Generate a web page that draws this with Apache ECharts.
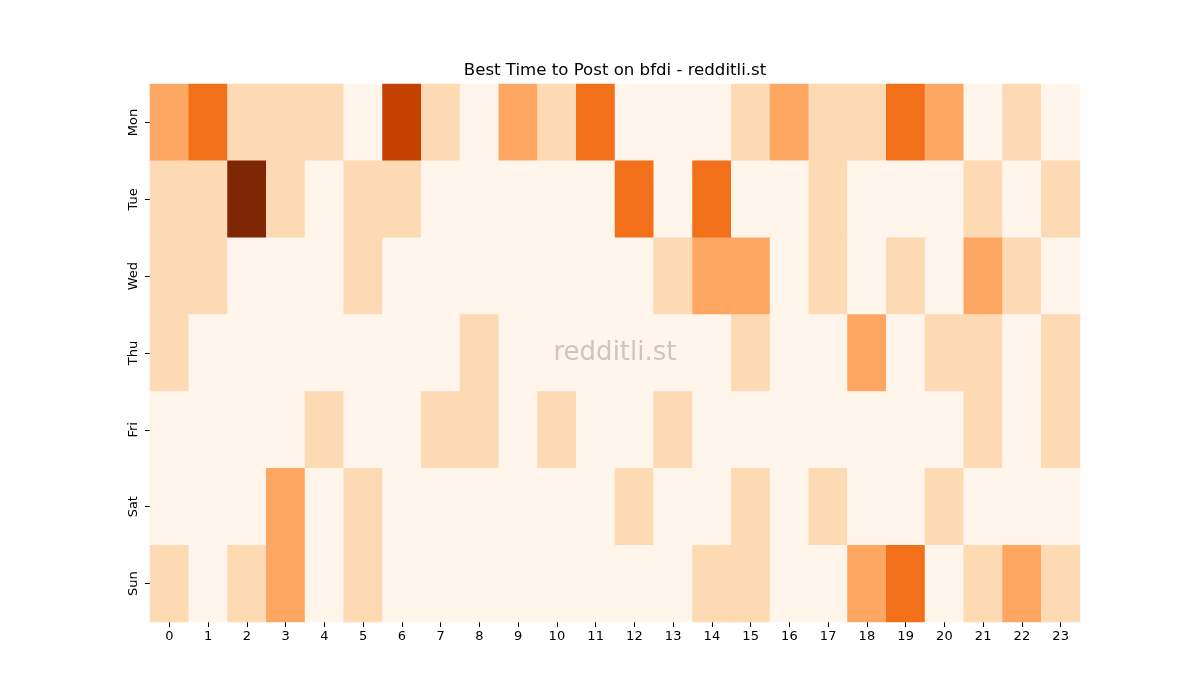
<!DOCTYPE html>
<html>
<head>
<meta charset="utf-8">
<script src="https://cdn.jsdelivr.net/npm/echarts@6/dist/echarts.min.js"></script>
<style>html,body{margin:0;padding:0;background:#fff;}#c{width:1200px;height:700px;}</style>
</head>
<body>
<div id="c"></div>
<script>
const hours = ['0','1','2','3','4','5','6','7','8','9','10','11','12','13','14','15','16','17','18','19','20','21','22','23'];
const days = ['Mon','Tue','Wed','Thu','Fri','Sat','Sun'];
const mon = [2,3,1,1,1,0,4,1,0,2,1,3,0,0,0,1,2,1,1,3,2,0,1,0];
const tue = [1,1,5,1,0,1,1,0,0,0,0,0,3,0,3,0,0,1,0,0,0,1,0,1];
const wed = [1,1,0,0,0,1,0,0,0,0,0,0,0,1,2,2,0,1,0,1,0,2,1,0];
const thu = [1,0,0,0,0,0,0,0,1,0,0,0,0,0,0,1,0,0,2,0,1,1,0,1];
const fri = [0,0,0,0,1,0,0,1,1,0,1,0,0,1,0,0,0,0,0,0,0,1,0,1];
const sat = [0,0,0,2,0,1,0,0,0,0,0,0,1,0,0,1,0,1,0,0,1,0,0,0];
const sun = [1,0,1,2,0,1,0,0,0,0,0,0,0,0,1,1,0,0,2,3,0,1,2,1];
const rows = [mon,tue,wed,thu,fri,sat,sun];
const palette = ['#fff5eb','#fdd9b4','#fda762','#f3701b','#c54102','#7f2704'];

const data = [];
rows.forEach((r, d) => r.forEach((v, h) => data.push([h, d, v])));

const chart = echarts.init(document.getElementById('c'), null, {renderer: 'canvas'});
const font = 'DejaVu Sans';
chart.setOption({
  animation: false,
  backgroundColor: '#ffffff',
  grid: {left: 150, top: 84, width: 930, height: 538},
  xAxis: {
    type: 'category', data: hours, position: 'bottom',
    axisLine: {show: false},
    axisTick: {show: true, alignWithLabel: true, length: 5, lineStyle: {color: '#000'}},
    axisLabel: {fontFamily: font, fontSize: 13, color: '#000', margin: 8, interval: 0},
    splitLine: {show: false}
  },
  yAxis: {
    type: 'category', data: days, inverse: true,
    axisLine: {show: false},
    axisTick: {show: true, alignWithLabel: true, length: 5, lineStyle: {color: '#000'}},
    axisLabel: {fontFamily: font, fontSize: 13, color: '#000', rotate: 90, margin: 10, interval: 0},
    splitLine: {show: false}
  },
  visualMap: {
    type: 'piecewise', show: false, dimension: 2,
    pieces: palette.map((c, i) => ({value: i, color: c}))
  },
  series: [{
    type: 'heatmap', data: data,
    itemStyle: {borderWidth: 0},
    emphasis: {disabled: true}
  }],
  graphic: [{
    type: 'text', x: 615, y: 71, z: 100,
    style: {
      text: 'Best Time to Post on bfdi - redditli.st',
      font: '16.6px "DejaVu Sans"', fill: '#000',
      align: 'center', verticalAlign: 'middle'
    }
  }, {
    type: 'text', x: 615, y: 353, z: 100,
    style: {
      text: 'redditli.st',
      font: '26px "DejaVu Sans"', fill: 'rgba(128,128,128,0.4)',
      align: 'center', verticalAlign: 'middle'
    }
  }]
});
</script>
</body>
</html>
